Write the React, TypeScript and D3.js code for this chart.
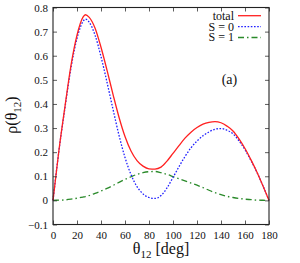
import { useEffect, useRef } from "react";
import * as d3 from "d3";

// θ12 in degrees (extra sample near the first peak)
const THETA = [0, 5, 10, 15, 20, 25, 27, 30, 35, 40, 45, 50, 55, 60, 65, 70, 75, 80, 85, 90, 95, 100, 105, 110, 115, 120, 125, 130, 135, 140, 145, 150, 155, 160, 165, 170, 175, 180];

const TOTAL = [0, 0.21, 0.39, 0.56, 0.685, 0.76, 0.77, 0.76, 0.715, 0.635, 0.54, 0.44, 0.345, 0.265, 0.205, 0.165, 0.142, 0.131, 0.13, 0.138, 0.163, 0.195, 0.227, 0.258, 0.283, 0.302, 0.316, 0.324, 0.327, 0.322, 0.308, 0.288, 0.255, 0.215, 0.168, 0.117, 0.06, 0];
const S0 = [0, 0.208, 0.385, 0.55, 0.672, 0.742, 0.752, 0.74, 0.686, 0.596, 0.49, 0.378, 0.27, 0.178, 0.107, 0.057, 0.027, 0.012, 0.008, 0.02, 0.052, 0.095, 0.14, 0.182, 0.218, 0.246, 0.268, 0.284, 0.295, 0.298, 0.291, 0.276, 0.247, 0.21, 0.165, 0.116, 0.06, 0];
const S1 = [0, 0.001, 0.002, 0.005, 0.009, 0.014, 0.016, 0.02, 0.029, 0.039, 0.05, 0.062, 0.075, 0.087, 0.098, 0.108, 0.115, 0.119, 0.12, 0.115, 0.108, 0.099, 0.09, 0.081, 0.072, 0.063, 0.053, 0.042, 0.032, 0.024, 0.017, 0.012, 0.008, 0.005, 0.003, 0.001, 0.0005, 0];

const X_TICKS = [0, 20, 40, 60, 80, 100, 120, 140, 160, 180];
const Y_TICKS = [-0.1, 0, 0.1, 0.2, 0.3, 0.4, 0.5, 0.6, 0.7, 0.8];

const SERIES = [
  { label: "total", values: TOTAL, color: "#ff2020", dash: "" },
  { label: "S = 0", values: S0, color: "#2020ff", dash: "1.6,1.6" },
  { label: "S = 1", values: S1, color: "#2a8a2a", dash: "6,3,1.5,3" },
];

const W = 300;
const H = 263;
const MARGIN = { top: 7.5, right: 31, bottom: 38.5, left: 53 };
const FONT = "serif";

export default function App() {
  const svgRef = useRef<SVGSVGElement>(null);

  useEffect(() => {
    if (!svgRef.current) return;
    const svg = d3.select(svgRef.current);
    svg.selectAll("*").remove();

    const iw = W - MARGIN.left - MARGIN.right;
    const ih = H - MARGIN.top - MARGIN.bottom;
    const x = d3.scaleLinear().domain([0, 180]).range([0, iw]);
    const y = d3.scaleLinear().domain([-0.1, 0.8]).range([ih, 0]);

    const g = svg.append("g").attr("transform", `translate(${MARGIN.left},${MARGIN.top})`);

    // ── curves ──
    const line = d3.line<number>()
      .x((_, i) => x(THETA[i]))
      .y((d) => y(d))
      .curve(d3.curveMonotoneX);

    SERIES.slice().reverse().forEach((s) => {
      g.append("path")
        .attr("d", line(s.values))
        .attr("fill", "none")
        .attr("stroke", s.color)
        .attr("stroke-width", 1.3)
        .attr("stroke-dasharray", s.dash || null);
    });

    // ── axes (ticks pointing inward, mirrored) ──
    const styleAxis = (sel: d3.Selection<SVGGElement, unknown, null, undefined>) => {
      sel.select(".domain").remove();
      sel.selectAll(".tick line").attr("stroke", "#333").attr("stroke-width", 0.8);
      sel.selectAll(".tick text")
        .attr("fill", "#111")
        .attr("font-size", 11)
        .attr("font-family", FONT);
    };

    g.append("g")
      .attr("transform", `translate(0,${ih})`)
      .call(d3.axisBottom(x).tickValues(X_TICKS).tickSize(-4).tickPadding(7).tickFormat(d3.format("d")))
      .call(styleAxis);
    g.append("g")
      .call(d3.axisTop(x).tickValues(X_TICKS).tickSize(-4).tickFormat(() => ""))
      .call(styleAxis);
    g.append("g")
      .call(d3.axisLeft(y).tickValues(Y_TICKS).tickSize(-4).tickPadding(5).tickFormat((d) => (+d === 0 ? "0" : d3.format(".1f")(+d))))
      .call(styleAxis);
    g.append("g")
      .attr("transform", `translate(${iw},0)`)
      .call(d3.axisRight(y).tickValues(Y_TICKS).tickSize(-4).tickFormat(() => ""))
      .call(styleAxis);

    // frame
    g.append("rect")
      .attr("width", iw).attr("height", ih)
      .attr("fill", "none")
      .attr("stroke", "#222")
      .attr("stroke-width", 1.1);

    // ── legend ──
    SERIES.forEach((s, i) => {
      const ly = 8.2 + i * 10.9;
      g.append("text")
        .attr("x", iw - 35)
        .attr("y", ly)
        .attr("dy", "0.33em")
        .attr("text-anchor", "end")
        .attr("font-family", FONT)
        .attr("font-size", 12)
        .attr("fill", "#111")
        .text(s.label);
      g.append("line")
        .attr("x1", iw - 31).attr("x2", iw - 8)
        .attr("y1", ly).attr("y2", ly)
        .attr("stroke", s.color)
        .attr("stroke-width", 1.3)
        .attr("stroke-dasharray", s.dash || null);
    });

    // panel tag
    g.append("text")
      .attr("x", x(147))
      .attr("y", y(0.5))
      .attr("dy", "0.33em")
      .attr("text-anchor", "middle")
      .attr("font-family", FONT)
      .attr("font-size", 14)
      .attr("fill", "#111")
      .text("(a)");

    // ── axis titles ──
    const xt = svg.append("text")
      .attr("x", MARGIN.left + iw / 2)
      .attr("y", 254)
      .attr("text-anchor", "middle")
      .attr("font-family", FONT)
      .attr("font-size", 16)
      .attr("fill", "#111");
    xt.append("tspan").text("θ");
    xt.append("tspan").attr("dy", 4).attr("font-size", 11).text("12");
    xt.append("tspan").attr("dy", -4).text(" [deg]");

    const yt = svg.append("text")
      .attr("transform", `translate(17,${MARGIN.top + ih / 2 - 1}) rotate(-90)`)
      .attr("text-anchor", "middle")
      .attr("font-family", FONT)
      .attr("font-size", 16)
      .attr("fill", "#111");
    yt.append("tspan").text("ρ(θ");
    yt.append("tspan").attr("dy", 4).attr("font-size", 11).text("12");
    yt.append("tspan").attr("dy", -4).text(")");
  }, []);

  return (
    <svg
      ref={svgRef}
      width={W}
      height={H}
      style={{ position: "absolute", left: 0, top: 0, background: "#fff" }}
    />
  );
}
